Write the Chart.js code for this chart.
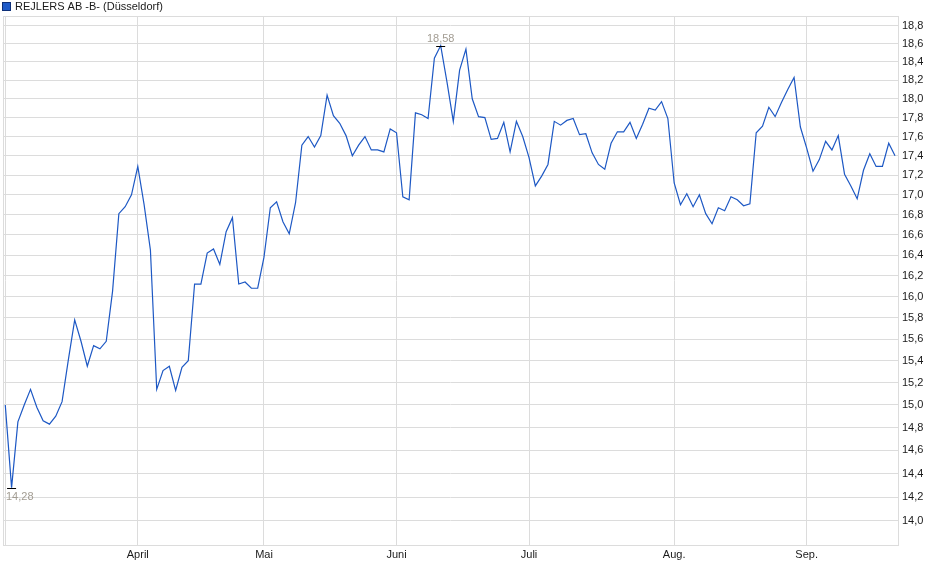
<!DOCTYPE html>
<html>
<head>
<meta charset="utf-8">
<script src="https://cdn.jsdelivr.net/npm/chart.js@4"></script>
<style>
  html, body { margin: 0; padding: 0; background: #fff; }
  canvas { display: block; }
</style>
</head>
<body>
<canvas id="chart" width="940" height="579"></canvas>
<script>
const seriesName = "REJLERS AB -B- (Düsseldorf)";

// one closing price per trading day, oldest first
const prices = [
    15.00, 14.28, 14.85, 15.00, 15.14, 14.98, 14.86, 14.83, 14.90, 15.03,
    15.41, 15.78, 15.58, 15.35, 15.54, 15.51, 15.58, 16.05, 16.81, 16.88,
    17.00, 17.29, 16.90, 16.45, 15.14, 15.31, 15.35, 15.13, 15.34, 15.40,
    16.12, 16.12, 16.42, 16.46, 16.31, 16.63, 16.77, 16.12, 16.14, 16.08,
    16.08, 16.38, 16.87, 16.93, 16.73, 16.61, 16.92, 17.51, 17.60, 17.49,
    17.61, 18.04, 17.82, 17.74, 17.61, 17.40, 17.51, 17.60, 17.46, 17.46,
    17.44, 17.68, 17.64, 16.98, 16.95, 17.85, 17.83, 17.79, 18.44, 18.58,
    18.18, 17.76, 18.31, 18.54, 18.00, 17.81, 17.80, 17.57, 17.58, 17.75,
    17.44, 17.76, 17.60, 17.38, 17.09, 17.19, 17.31, 17.76, 17.72, 17.77,
    17.79, 17.62, 17.63, 17.43, 17.31, 17.26, 17.53, 17.65, 17.65, 17.75,
    17.58, 17.73, 17.90, 17.88, 17.97, 17.79, 17.12, 16.90, 17.01, 16.88,
    17.00, 16.81, 16.71, 16.87, 16.84, 16.98, 16.95, 16.89, 16.91, 17.64,
    17.71, 17.91, 17.81, 17.96, 18.10, 18.23, 17.70, 17.48, 17.24, 17.36,
    17.55, 17.46, 17.61, 17.21, 17.09, 16.96, 17.25, 17.42, 17.29, 17.29,
    17.53, 17.40
];

// first trading day of each month (index into prices)
const monthStarts = [21, 41, 62, 83, 106, 127];
const monthLabels = ["April", "Mai", "Juni", "Juli", "Aug.", "Sep."];

const yTicks = [
    14.0, 14.2, 14.4, 14.6, 14.8, 15.0, 15.2, 15.4, 15.6, 15.8, 16.0, 16.2, 16.4,
    16.6, 16.8, 17.0, 17.2, 17.4, 17.6, 17.8, 18.0, 18.2, 18.4, 18.6, 18.8
];

const FONT = "Liberation Sans, Arial, sans-serif";
const GRID = "#dcdcdc";
const LINE = "#1d58c4";

function fmt(v, digits) {
    return v.toFixed(digits).replace(".", ",");
}

// frame, legend and the min/max markers
const decorations = {
    id: "decorations",
    beforeDatasetsDraw(chart) {
        const { ctx, chartArea: a } = chart;
        ctx.save();
        ctx.strokeStyle = GRID;
        ctx.lineWidth = 1;
        ctx.strokeRect(Math.round(a.left) + 0.5, Math.round(a.top) + 0.5,
            Math.round(a.right - a.left), Math.round(a.bottom - a.top));
        ctx.restore();
    },
    afterDraw(chart) {
        const { ctx, chartArea: a } = chart;
        const xs = chart.scales.x, ys = chart.scales.y;
        ctx.save();

        // legend
        ctx.fillStyle = "#1f5bc8";
        ctx.fillRect(3, 3, 7, 7);
        ctx.strokeStyle = "#0d2f78";
        ctx.strokeRect(2.5, 2.5, 8, 8);
        ctx.fillStyle = "#1a1a1a";
        ctx.font = "11px " + FONT;
        ctx.textBaseline = "middle";
        ctx.textAlign = "left";
        ctx.fillText(seriesName, 15, 7);

        // highest and lowest price
        const hi = prices.indexOf(Math.max(...prices));
        const lo = prices.indexOf(Math.min(...prices));
        [[hi, true], [lo, false]].forEach(([i, top]) => {
            const px = xs.getPixelForValue(i);
            const py = Math.round(ys.getPixelForValue(prices[i])) + 0.5;
            ctx.strokeStyle = "#000";
            ctx.lineWidth = 1;
            ctx.beginPath();
            ctx.moveTo(px - 4.5, py);
            ctx.lineTo(px + 4.5, py);
            ctx.stroke();

            const txt = fmt(prices[i], 2);
            const w = ctx.measureText(txt).width;
            let tx = px - w / 2;
            tx = Math.max(a.left + 3, Math.min(a.right - 3 - w, tx));
            ctx.fillStyle = "#a29c92";
            ctx.textAlign = "left";
            ctx.textBaseline = top ? "bottom" : "top";
            ctx.fillText(txt, tx, top ? py - 2 : py + 3);
        });
        ctx.restore();
    }
};

const ctx = document.getElementById("chart").getContext("2d");

new Chart(ctx, {
    type: "line",
    data: {
        datasets: [{
            label: seriesName,
            data: prices.map((v, i) => ({ x: i, y: v })),
            borderColor: LINE,
            borderWidth: 1.2,
            pointRadius: 0,
            tension: 0,
            fill: false
        }]
    },
    options: {
        responsive: false,
        animation: false,
        devicePixelRatio: 1,
        layout: { padding: { left: 3, top: 16, right: 0, bottom: 0 } },
        plugins: {
            legend: { display: false },
            tooltip: { enabled: false }
        },
        scales: {
            x: {
                type: "linear",
                min: -0.36,
                max: 141.47,
                afterBuildTicks: (scale) => {
                    scale.ticks = [0, ...monthStarts].map(v => ({ value: v }));
                },
                afterFit: (scale) => { scale.height = 34; },
                grid: { color: GRID, drawTicks: false },
                border: { display: true, color: GRID },
                ticks: {
                    autoSkip: false,
                    maxRotation: 0,
                    padding: 3,
                    color: "#1a1a1a",
                    font: { family: FONT, size: 11 },
                    callback: (value) => {
                        const k = monthStarts.indexOf(value);
                        return k >= 0 ? monthLabels[k] : "";
                    }
                }
            },
            y: {
                type: "logarithmic",
                position: "right",
                min: 13.80,
                max: 18.91,
                afterBuildTicks: (scale) => {
                    scale.ticks = yTicks.map(v => ({ value: v }));
                },
                afterFit: (scale) => { scale.width = 42; },
                grid: { color: GRID, drawTicks: false },
                border: { display: true, color: GRID },
                ticks: {
                    padding: 4,
                    color: "#1a1a1a",
                    font: { family: FONT, size: 11 },
                    callback: (value) => fmt(value, 1)
                }
            }
        }
    },
    plugins: [decorations]
});
</script>
</body>
</html>
